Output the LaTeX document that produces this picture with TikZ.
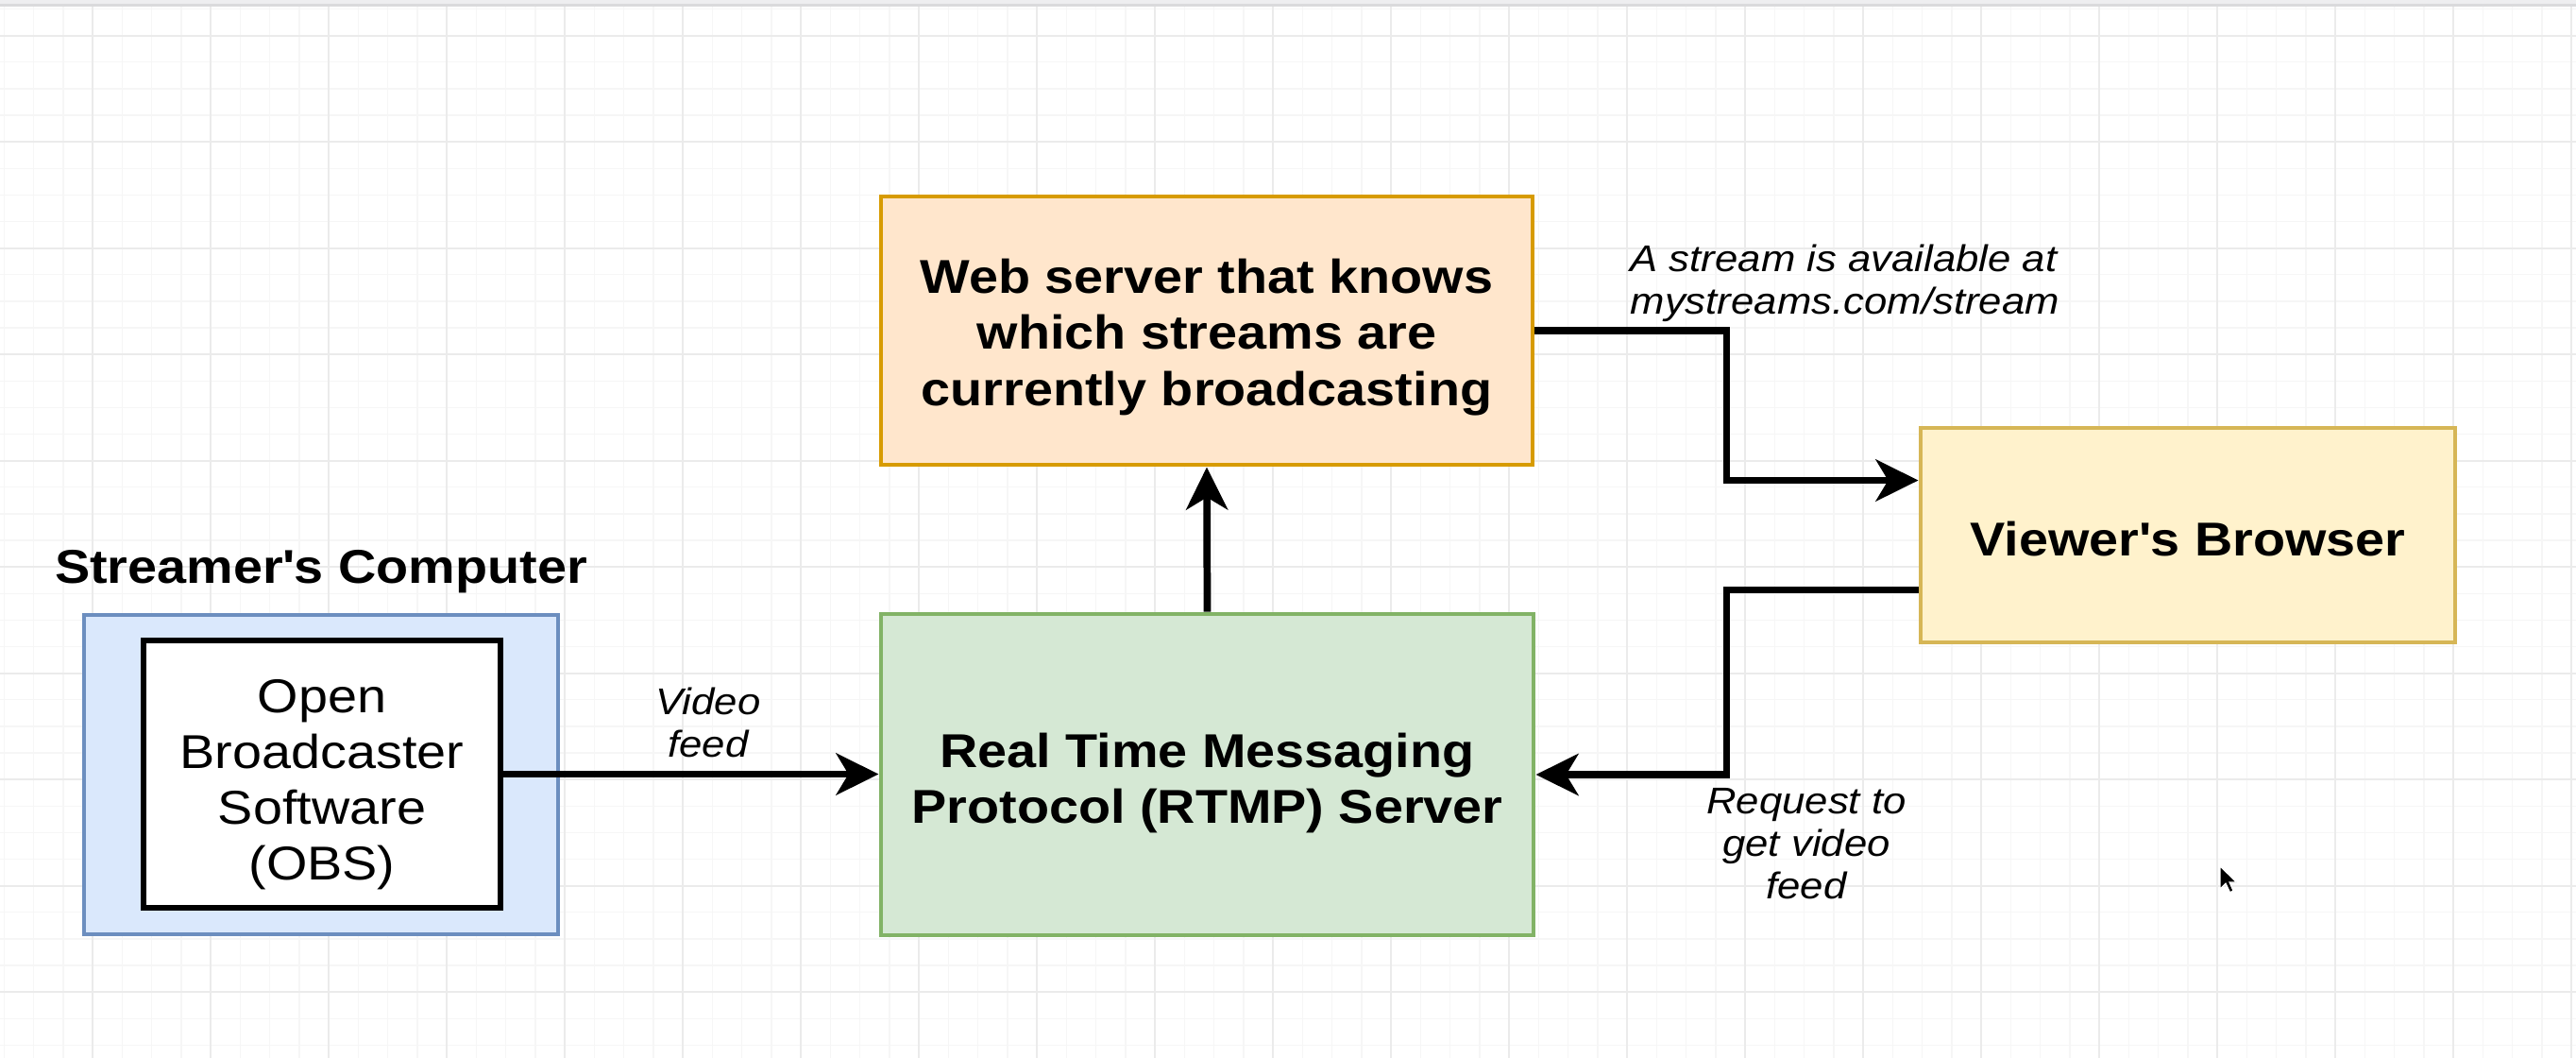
\documentclass[tikz,border=0pt]{standalone}
\usepackage{fontspec}
\setmainfont{Liberation Sans}[FakeStretch=1.11]
\usepackage{tikz}
\usetikzlibrary{
  arrows.meta,
  positioning,
  calc,
}
\definecolor{compblue}{HTML}{6C8EBF}
\definecolor{compbluebg}{HTML}{DAE8FC}
\definecolor{weborange}{HTML}{D79B00}
\definecolor{weborangebg}{HTML}{FFE6CC}
\definecolor{rtmpgreen}{HTML}{82B366}
\definecolor{rtmpgreenbg}{HTML}{D5E8D4}
\definecolor{viewyellow}{HTML}{D6B656}
\definecolor{viewyellowbg}{HTML}{FFF2CC}
\definecolor{gridminor}{HTML}{F6F6F6}
\definecolor{gridmajor}{HTML}{EBEBEB}
\definecolor{barbg}{HTML}{EEEEF0}
\definecolor{barline}{HTML}{DADADC}

\newcommand{\boxtext}{\fontsize{14.3}{16.8}\selectfont}
\newcommand{\edgetext}{\fontsize{11.2}{12.8}\selectfont\itshape}
\newcommand{\dropstrut}[1]{\rule{0pt}{#1}}

\tikzset{
  box/.style={draw, rectangle, align=center, inner sep=0pt, font=\boxtext},
  flow/.style={line width=2.2pt, -{Stealth[length=4.5mm, width=4.4mm, inset=1.3mm]}},
  edgelabel/.style={align=center, inner sep=0pt, font=\edgetext},
}

\begin{document}
\begin{tikzpicture}
  \useasboundingbox (0,0) rectangle (27.28,-11.19);
  \fill[white] (0,0) rectangle (27.28,-11.19);
  \begin{scope}
    \clip (0,-0.06) rectangle (27.28,-11.19);
    \draw[gridminor, line width=0.35pt, shift={(0.0455,-0.0958)}, xstep=0.3125, ystep=0.28125] (-1,-12) grid (29,1);
    \draw[gridmajor, line width=0.5pt, shift={(0.983,-0.377)}, xstep=1.25, ystep=1.125] (-2,-12) grid (28,1);
  \end{scope}
  \fill[barbg] (0,0) rectangle (27.28,-0.05);
  \draw[barline, line width=0.8pt] (0,-0.055) -- (27.28,-0.055);

  \node[box, draw=compblue, fill=compbluebg, line width=1.4pt, minimum width=5.02cm, minimum height=3.38cm] (obsbox) at (3.40,-8.20) {};
  \node[inner sep=0pt, font=\boxtext\bfseries, above=0.2cm of obsbox] (obstitle) {Streamer\textquotesingle s Computer};
  \node[box, fill=white, line width=1.8pt, minimum width=3.78cm, minimum height=2.83cm] (obs) at (3.41,-8.195) {\dropstrut{16.3pt}Open\\Broadcaster\\Software\\(OBS)};
  \node[box, draw=rtmpgreen, fill=rtmpgreenbg, line width=1.4pt, minimum width=6.91cm, minimum height=3.40cm, font=\boxtext\bfseries] (rtmp) at (12.785,-8.20) {\dropstrut{15.4pt}Real Time Messaging\\Protocol (RTMP) Server};
  \node[box, draw=weborange, fill=weborangebg, line width=1.4pt, minimum width=6.90cm, minimum height=2.84cm, font=\boxtext\bfseries] (web) at (12.78,-3.50) {\dropstrut{14.4pt}Web server that knows\\which streams are\\currently broadcasting};
  \node[box, draw=viewyellow, fill=viewyellowbg, line width=1.4pt, minimum width=5.66cm, minimum height=2.27cm, font=\boxtext\bfseries] (viewer) at (23.17,-5.665) {\dropstrut{12.4pt}Viewer\textquotesingle s Browser};

  \coordinate (bend) at ($(web.east)!0.5!(viewer.west)$);
  \coordinate (viewin) at ($(viewer.north west)!0.25!(viewer.south west)$);
  \coordinate (viewout) at ($(viewer.north west)!0.75!(viewer.south west)$);
  \draw[flow] (obs.east) -- (obs.east -| rtmp.west);
  \draw[flow] (rtmp.north) -- (web.south);
  \draw[flow] (web.east) -- (web.east -| bend) |- (viewin);
  \draw[flow] (viewout) -- (viewout -| bend) |- (rtmp.east);

  \node[edgelabel, anchor=north] (feedlbl) at (7.50,-7.27) {Video\\feed};
  \node[edgelabel, anchor=north west, align=left] (availlbl) at (17.26,-2.58) {A stream is available at\\mystreams.com/stream};
  \node[edgelabel, anchor=north] (requestlbl) at (19.13,-8.34) {Request to\\get video\\feed};

  \filldraw[black, draw=white, line width=0.3pt] (23.51,-9.17) -- ++(0,-0.24) -- ++(0.06,0.06) -- ++(0.045,-0.095) -- ++(0.035,0.015) -- ++(-0.04,0.09) -- ++(0.075,0) -- cycle;
\end{tikzpicture}
\end{document}
